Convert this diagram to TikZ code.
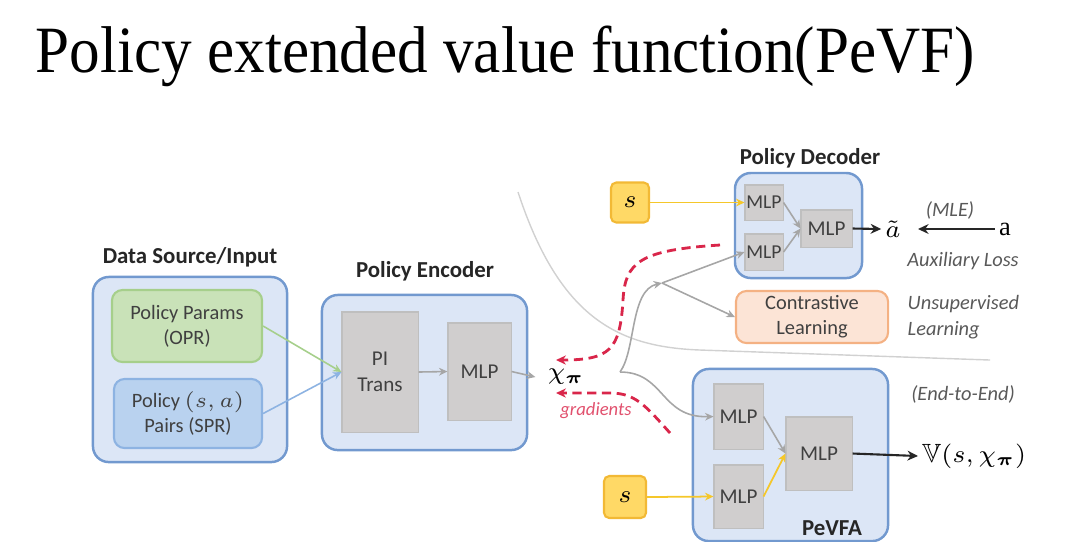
\documentclass[tikz,border=0pt]{standalone}
\usepackage{amsmath,amssymb}
\usepackage{fontspec}
\setmainfont{Liberation Serif}
\setsansfont{Carlito}
\usepackage{tikz}
\usetikzlibrary{positioning,calc,arrows.meta}

\definecolor{panelfill}{HTML}{DCE6F6}
\definecolor{paneledge}{HTML}{7299CF}
\definecolor{mlpfill}{HTML}{D0CECE}
\definecolor{mlpedge}{HTML}{BFBFBF}
\definecolor{sfill}{HTML}{FFD966}
\definecolor{sedge}{HTML}{F2B935}
\definecolor{oprfill}{HTML}{C9E2B8}
\definecolor{opredge}{HTML}{A6CF8B}
\definecolor{sprfill}{HTML}{B9D2EF}
\definecolor{spredge}{HTML}{8DB3E2}
\definecolor{clfill}{HTML}{FCE4D6}
\definecolor{cledge}{HTML}{F4B183}
\definecolor{gradred}{HTML}{D9264A}
\definecolor{boxtext}{HTML}{404040}
\definecolor{sidetext}{HTML}{595959}
\definecolor{linkgray}{HTML}{A6A6A6}

\tikzset{
  panel/.style={draw=paneledge, fill=panelfill, line width=0.7pt, rounded corners=4.5pt, inner sep=0pt},
  mlpbox/.style={draw=mlpedge, fill=mlpfill, line width=0.3pt, inner sep=0pt, text=boxtext,
    font=\sffamily\fontsize{6}{7.4}\selectfont, align=center},
  sbox/.style={draw=sedge, fill=sfill, line width=0.6pt, rounded corners=1.5pt, inner sep=0pt,
    minimum width=0.38cm, minimum height=0.4cm, font=\fontsize{7}{8}\selectfont},
  srcbox/.style={line width=0.6pt, rounded corners=3pt, inner sep=0pt, text=boxtext,
    font=\sffamily\fontsize{5.8}{7.2}\selectfont, align=center},
  title/.style={font=\sffamily\bfseries\fontsize{6.5}{7.5}\selectfont, text=black!85},
  note/.style={font=\sffamily\itshape\fontsize{5.8}{7.2}\selectfont, text=sidetext, align=left},
  link/.style={draw=linkgray, line width=0.45pt, -{Stealth[length=2.4pt,width=2.2pt]}},
  ylink/.style={draw=sedge!80!yellow, line width=0.5pt, -{Stealth[length=2.4pt,width=2.2pt]}},
  klink/.style={draw=black!85, line width=0.6pt, -{Stealth[length=3pt,width=2.8pt]}},
  grad/.style={draw=gradred, line width=0.8pt, dash pattern=on 2.6pt off 1.6pt,
    -{Stealth[length=2.8pt,width=2.6pt]}},
}

\begin{document}
\begin{tikzpicture}[x=0.01cm,y=-0.01cm]
  \useasboundingbox (0,0) rectangle (1080,541);

  % Heading
  \node[anchor=base west, inner sep=0pt, font=\fontsize{18.8}{20}\selectfont] (head) at (35,72)
    {\scalebox{0.925}[1]{Policy extended value function(PeVF)}};

  % Border between decoder side and value side
  \draw[black!18, line width=0.4pt] (518,192) .. controls (560,320) and (620,347) .. (700,350) -- (990,360);

  % Data Source / Input
  \node[panel, minimum width=1.94cm, minimum height=1.85cm] (src) at (190,369.5) {};
  \node[title] (srclab) at (190,257) {Data Source/Input};
  \node[srcbox, draw=opredge, fill=oprfill, minimum width=1.50cm, minimum height=0.72cm] (opr) at (187,326)
    {Policy Params\\(OPR)};
  \node[srcbox, draw=spredge, fill=sprfill, minimum width=1.48cm, minimum height=0.69cm] (spr) at (188,413.5)
    {Policy $(s,a)$\\Pairs (SPR)};

  % Policy Encoder
  \node[panel, minimum width=2.05cm, minimum height=1.55cm] (enc) at (424.5,372.5) {};
  \node[title] (enclab) at (425,271) {Policy Encoder};
  \node[mlpbox, minimum width=0.76cm, minimum height=1.20cm] (pit) at (380,372) {PI\\Trans};
  \node[mlpbox, minimum width=0.63cm, minimum height=0.97cm] (emlp) at (479.5,371.5) {MLP};
  \node[font=\fontsize{7.5}{8}\selectfont] (chi) at (566,377) {$\chi_{\boldsymbol{\pi}}$};

  \draw[link, draw=opredge] (opr.east) -- (pit.west);
  \draw[link, draw=spredge] (spr.east) -- (pit.west);
  \draw[link] (pit.east) -- (emlp.west);
  \draw[link] (emlp.east) -- (chi.west);

  % Policy Decoder
  \node[panel, minimum width=1.27cm, minimum height=1.05cm] (dec) at (798.5,225.5) {};
  \node[title] (declab) at (810,158) {Policy Decoder};
  \node[mlpbox, minimum width=0.38cm, minimum height=0.35cm, font=\sffamily\fontsize{5.6}{7}\selectfont] (dmlpa) at (764,202.5) {MLP};
  \node[mlpbox, minimum width=0.38cm, minimum height=0.36cm, font=\sffamily\fontsize{5.6}{7}\selectfont] (dmlpb) at (764,252) {MLP};
  \node[mlpbox, minimum width=0.51cm, minimum height=0.37cm] (dmlpc) at (826.5,228.5) {MLP};
  \node[sbox] (sdec) at (630,202.5) {$s$};
  \node[font=\fontsize{7.5}{8}\selectfont, inner sep=1pt] (atil) at (893,229) {$\tilde{a}$};
  \node[font=\fontsize{7.5}{8}\selectfont, inner sep=1pt] (aval) at (1005,229) {a};
  \coordinate (mlehead) at (918,229);
  \node[note] (mle) at (950,210) {(MLE)};
  \node[note] (aux) at (963,261) {Auxiliary Loss};

  \draw[ylink] (sdec.east) -- (dmlpa.west);
  \draw[link] (dmlpa.east) -- (dmlpc.west);
  \draw[link] (dmlpb.east) -- (dmlpc.west);
  \draw[klink] (dmlpc.east) -- (atil.west);
  \draw[klink] (aval.west) -- (mlehead);

  % Contrastive Learning
  \node[srcbox, draw=cledge, fill=clfill, minimum width=1.52cm, minimum height=0.52cm] (cl) at (812,317)
    {Contrastive\\Learning};
  \node[note, anchor=west, inner sep=0pt] (unsup) at (907,317) {Unsupervised\\Learning};

  % PeVFA
  \node[panel, minimum width=1.95cm, minimum height=1.72cm] (pevfa) at (790.5,455) {};
  \node[title] (pevfalab) at (832,528) {PeVFA};
  \node[mlpbox, minimum width=0.49cm, minimum height=0.65cm] (pmlpa) at (738.5,416.5) {MLP};
  \node[mlpbox, minimum width=0.49cm, minimum height=0.63cm] (pmlpb) at (738.5,496.5) {MLP};
  \node[mlpbox, minimum width=0.66cm, minimum height=0.73cm] (pmlpc) at (819,453.5) {MLP};
  \node[sbox, minimum width=0.42cm, minimum height=0.42cm] (sval) at (625,497) {$s$};
  \node[font=\fontsize{7.5}{8}\selectfont, anchor=west, inner sep=1pt] (vout) at (918,456) {$\mathbb{V}(s,\chi_{\boldsymbol{\pi}})$};
  \node[note] (e2e) at (963,394) {(End-to-End)};

  \draw[link] (pmlpa.east) -- (pmlpc.west);
  \draw[ylink] (pmlpb.east) -- (pmlpc.west);
  \draw[ylink] (sval.east) -- (pmlpb.west);
  \draw[klink] (pmlpc.east) -- (vout.west);

  % Embedding routes
  \coordinate (fork) at (620,372);
  \coordinate (split) at (662,283);
  \draw[link] (fork) .. controls (636,350) and (630,290) .. (split);
  \draw[link] (split) -- (dmlpb.west);
  \draw[link] (split) -- (cl.west);
  \draw[link] (fork) .. controls (665,372) and (660,418) .. (pmlpa.west);

  % Gradients
  \coordinate (gtop) at (720,245);
  \coordinate (gbot) at (670,433);
  \coordinate (gtopend) at (556,360);
  \coordinate (gbotend) at (556,393);
  \draw[grad] (gtop) .. controls (640,250) and (625,262) .. (623,300) .. controls (620,350) and (610,360) .. (gtopend);
  \draw[grad] (gbot) .. controls (645,405) and (635,393) .. (610,393) -- (gbotend);
  \node[font=\sffamily\itshape\fontsize{5.3}{6}\selectfont, text=gradred!80] (gradlab) at (596,411) {gradients};
\end{tikzpicture}
\end{document}
